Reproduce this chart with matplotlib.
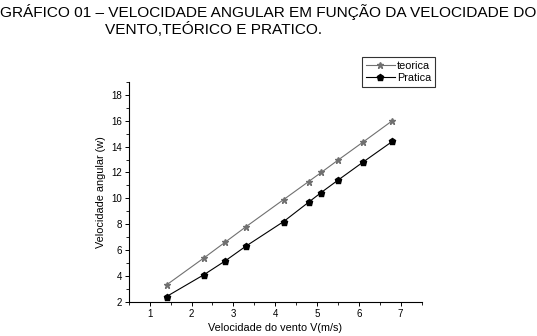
import matplotlib
matplotlib.use("Agg")
import matplotlib.pyplot as plt
from matplotlib.ticker import MultipleLocator

plt.rcParams['font.family'] = ['Liberation Sans', 'DejaVu Sans']

# data
vento = [1.4, 2.3, 2.8, 3.3, 4.2, 4.8, 5.1, 5.5, 6.1, 6.8]
teorica = [3.3, 5.4, 6.6, 7.8, 9.9, 11.3, 12.0, 12.95, 14.35, 16.0]
pratica = [2.4, 4.1, 5.15, 6.3, 8.2, 9.7, 10.45, 11.4, 12.8, 14.4]

fig = plt.figure(figsize=(5.37, 3.36), dpi=100)
ax = fig.add_axes([0.240, 0.102, 0.545, 0.654])

ax.plot(vento, teorica, '-', color='#707070', lw=0.8, marker='*',
        ms=5, mfc='#707070', mec='#707070', label='teorica')
ax.plot(vento, pratica, '-', color='black', lw=0.8, marker='p',
        ms=5, label='Pratica')

ax.set_xlim(0.5, 7.5)
ax.set_ylim(2, 19)
ax.xaxis.set_major_locator(MultipleLocator(1))
ax.xaxis.set_minor_locator(MultipleLocator(0.5))
ax.yaxis.set_major_locator(MultipleLocator(2))
ax.yaxis.set_minor_locator(MultipleLocator(1))
ax.set_yticks(range(2, 19, 2))

for side in ('top', 'right'):
    ax.spines[side].set_visible(False)
ax.spines['left'].set_linewidth(0.8)
ax.spines['bottom'].set_linewidth(0.8)
ax.tick_params(which='major', direction='out', length=3, width=0.7, labelsize=7, pad=2)
ax.tick_params(which='minor', direction='out', length=2, width=0.6)

ax.set_xlabel('Velocidade do vento V(m/s)', fontsize=7.8, labelpad=3)
ax.set_ylabel('Velocidade angular (w)', fontsize=7.8, labelpad=4)

leg = ax.legend(loc='upper left', bbox_to_anchor=(0.796, 1.114), fontsize=7.8,
                frameon=True, fancybox=False, edgecolor='black',
                handlelength=2.7, borderpad=0.35, labelspacing=0.2,
                handletextpad=0.2, borderaxespad=0)
leg.get_frame().set_linewidth(0.8)

fig.text(0.0, 1 - 12 / 336, 'GRÁFICO 01 – VELOCIDADE ANGULAR EM FUNÇÃO DA VELOCIDADE DO',
         fontsize=11.1, ha='left', va='center')
fig.text(105 / 537, 1 - 29 / 336, 'VENTO,TEÓRICO E PRATICO.',
         fontsize=11.1, ha='left', va='center')

fig.savefig('out.png', dpi=100)
